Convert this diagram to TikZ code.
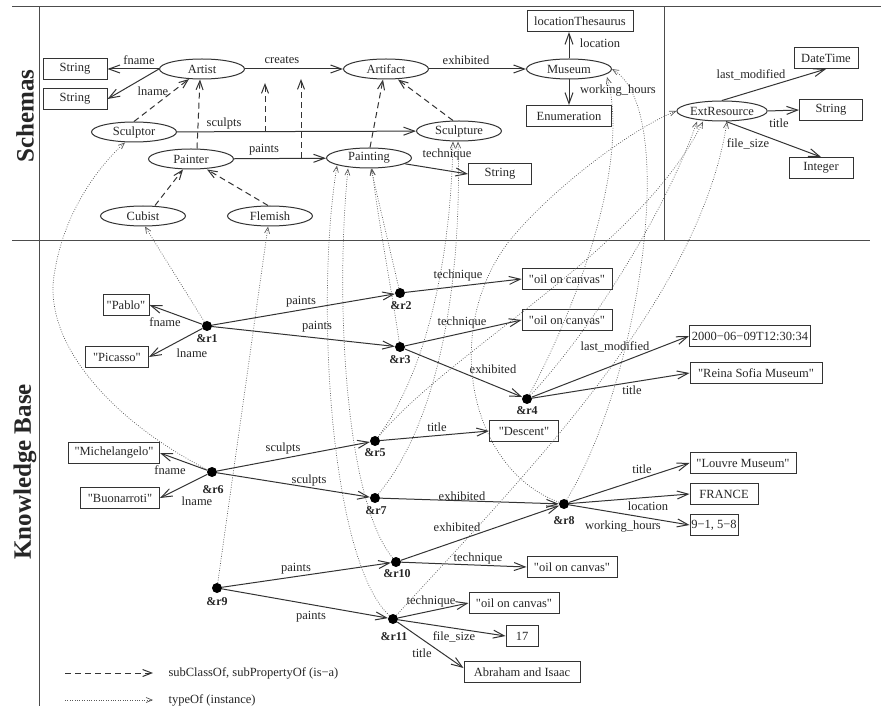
\documentclass[tikz,border=0pt]{standalone}
\usepackage{fontspec}
\setmainfont{Liberation Serif}[Ligatures=TeXOff]
\usetikzlibrary{arrows.meta,shapes.geometric,calc}
\begin{document}
\begin{tikzpicture}[x=1pt,y=-1pt,
  every node/.style={font=\fontsize{12.5}{14}\selectfont, text=black!85},
  cls/.style={ellipse,draw=black!80,line width=1pt,minimum width=85pt,minimum height=20pt,inner sep=0pt},
  box/.style={rectangle,draw=black!80,line width=1pt,minimum height=21pt,inner sep=0pt},
  res/.style={circle,fill=black,minimum size=10pt,inner sep=0pt},
  rl/.style={font=\bfseries\fontsize{12}{14}\selectfont,inner sep=0pt},
  lbl/.style={inner sep=0pt},
  prop/.style={draw=black!80,line width=1pt,-{Straight Barb[length=11pt,width=8pt]}},
  isa/.style={draw=black!80,line width=1pt,dash pattern=on 6pt off 4pt,-{Straight Barb[length=9pt,width=7pt]}},
  inst/.style={draw=black!65,line width=0.7pt,dash pattern=on 0.8pt off 1.6pt,-{Straight Barb[length=6pt,width=5pt]}},
  frame/.style={draw=black!70,line width=1pt}]
\useasboundingbox (0,0) rectangle (881,708);

% frame
\draw[frame] (12,7) -- (881,7);
\draw[frame] (39,7) -- (39,706);
\draw[frame] (12,241) -- (870,241);
\draw[frame] (664,7) -- (664,241);
\node[rotate=90,font=\bfseries\fontsize{25}{28}\selectfont] (schemas) at (25,116) {Schemas};
\node[rotate=90,font=\bfseries\fontsize{25}{28}\selectfont] (kb) at (25,472) {Knowledge Base};

% schema nodes
\node[box,minimum width=64pt] (s1) at (75,69) {String};
\node[box,minimum width=64pt] (s2) at (75,99) {String};
\node[cls] (artist) at (202,69) {Artist};
\node[cls] (artifact) at (386,69) {Artifact};
\node[cls] (museum) at (569,69) {Museum};
\node[box,minimum width=106pt] (lt) at (580,21) {locationThesaurus};
\node[box,minimum width=85pt] (enum) at (569,116) {Enumeration};
\node[cls] (sculptor) at (134,132) {Sculptor};
\node[cls] (sculpture) at (459,131) {Sculpture};
\node[cls] (painter) at (191,159) {Painter};
\node[cls] (painting) at (369,158) {Painting};
\node[box,minimum width=63pt] (s3) at (500,174) {String};
\node[cls] (cubist) at (143,216) {Cubist};
\node[cls] (flemish) at (270,216) {Flemish};
\node[cls,minimum width=82pt] (extres) at (722,111) {ExtResource};
\node[box,minimum width=64pt] (datetime) at (826,58) {DateTime};
\node[box,minimum width=63pt] (s4) at (831,110) {String};
\node[box,minimum width=64pt] (integer) at (821,168) {Integer};

% schema properties
\draw[prop] (artist.west) -- (s1.east) node[lbl] (la) at (139,60) {fname};
\draw[prop] (artist.west) -- (s2.east) node[lbl] (lb) at (153,91) {lname};
\draw[prop] (artist) -- (artifact) node[lbl] (lc) at (282,60) {creates};
\draw[prop] (artifact) -- (museum) node[lbl] (ld) at (466,60) {exhibited};
\draw[prop] (museum.north) -- (lt.south -| museum.north) node[lbl] (le) at (600,43) {location};
\draw[prop] (museum.south) -- (enum.north) node[lbl] (lf) at (618,91) {working\_hours};
\draw[prop] (sculptor) -- (sculpture) node[lbl] (lg) at (224,123) {sculpts};
\draw[prop] (painter) -- (painting) node[lbl] (lh) at (264,150) {paints};
\draw[prop] (painting) -- (s3.west) node[lbl] (li) at (447,154) {technique};
\draw[prop] (extres.north) -- (datetime.south) node[lbl] (lj) at (751,75) {last\_modified};
\draw[prop] (extres.east) -- (s4.west) node[lbl] (lk) at (779,123) {title};
\draw[prop] ([xshift=4pt]extres.south) -- (integer.north) node[lbl] (ll) at (748,144) {file\_size};

% is-a
\draw[isa] (sculptor.north) -- (artist);
\draw[isa] ([xshift=6pt]painter.north) -- ([xshift=-2pt]artist.south);
\draw[isa] ([xshift=12pt]cubist.north) -- ([xshift=-8pt]painter.south);
\draw[isa] ([xshift=-2pt]flemish.north) -- ([xshift=16pt]painter.south);
\coordinate (sc) at (265,132); \coordinate (cr1) at (265,83);
\draw[isa] (sc) -- (cr1);
\coordinate (pa) at (301,158); \coordinate (cr2) at (301,79);
\draw[isa] (pa) -- (cr2);
\draw[isa] ([xshift=1pt]painting.north) -- ([xshift=-3pt]artifact.south);
\draw[isa] ([xshift=-6pt]sculpture.north) -- ([xshift=12pt]artifact.south);

% resources
\node[res] (r1) at (207,326) {};
\node[res] (r2) at (400,293) {};
\node[res] (r3) at (400,347) {};
\node[res] (r4) at (527,399) {};
\node[res] (r5) at (375,441) {};
\node[res] (r6) at (212,472) {};
\node[res] (r7) at (375,498) {};
\node[res] (r8) at (564,504) {};
\node[res] (r9) at (217,588) {};
\node[res] (r10) at (396,562) {};
\node[res] (r11) at (393,619) {};
\node[rl] (r1l) at (207,339) {\&r1};
\node[rl] (r2l) at (401,306) {\&r2};
\node[rl] (r3l) at (400,360) {\&r3};
\node[rl] (r4l) at (527,411) {\&r4};
\node[rl] (r5l) at (375,453) {\&r5};
\node[rl] (r6l) at (213,490) {\&r6};
\node[rl] (r7l) at (376,511) {\&r7};
\node[rl] (r8l) at (564,521) {\&r8};
\node[rl] (r9l) at (217,602) {\&r9};
\node[rl] (r10l) at (397,574) {\&r10};
\node[rl] (r11l) at (394,637) {\&r11};

% literals
\node[box,minimum width=46pt] (pablo) at (126,305) {"Pablo"};
\node[box,minimum width=63pt] (picasso) at (117,357) {"Picasso"};
\node[box,minimum width=90pt] (oil2) at (567,279) {"oil on canvas"};
\node[box,minimum width=90pt] (oil3) at (567,320) {"oil on canvas"};
\node[box,minimum width=121pt] (date) at (750,336) {2000−06−09T12:30:34};
\node[box,minimum width=132pt] (reina) at (756,373) {"Reina Sofia Museum"};
\node[box,minimum width=69pt] (descent) at (524,431) {"Descent"};
\node[box,minimum width=106pt] (louvre) at (743,463) {"Louvre Museum"};
\node[box,minimum width=68pt] (france) at (724,494) {FRANCE};
\node[box,minimum width=48pt] (hours) at (714,525) {9−1, 5−8};
\node[box,minimum width=90pt] (oil10) at (572,567) {"oil on canvas"};
\node[box,minimum width=90pt] (oil11) at (514,603) {"oil on canvas"};
\node[box,minimum width=32pt] (seventeen) at (522,636) {17};
\node[box,minimum width=116pt] (abraham) at (522,672) {Abraham and Isaac};
\node[box,minimum width=91pt] (michel) at (114,453) {"Michelangelo"};
\node[box,minimum width=79pt] (buon) at (120,498) {"Buonarroti"};

% KB properties
\draw[prop] (r1) -- (pablo.east) node[lbl] (m1) at (165,322) {fname};
\draw[prop] (r1) -- (picasso.east) node[lbl] (m2) at (192,353) {lname};
\draw[prop] (r1) -- (r2) node[lbl] (m3) at (301,302) {paints};
\draw[prop] (r1) -- (r3) node[lbl] (m4) at (317,327) {paints};
\draw[prop] (r2) -- (oil2.west) node[lbl] (m5) at (458,275) {technique};
\draw[prop] (r3) -- (oil3.west) node[lbl] (m6) at (462,322) {technique};
\draw[prop] (r3) -- (r4) node[lbl] (m7) at (493,369) {exhibited};
\draw[prop] (r4) -- (date.west) node[lbl] (m8) at (615,347) {last\_modified};
\draw[prop] (r4) -- (reina.west) node[lbl] (m9) at (632,390) {title};
\draw[prop] (r5) -- (descent.west) node[lbl] (m10) at (437,427) {title};
\draw[prop] (r6) -- (michel.east) node[lbl] (m11) at (170,470) {fname};
\draw[prop] (r6) -- (buon.east) node[lbl] (m12) at (197,501) {lname};
\draw[prop] (r6) -- (r5) node[lbl] (m13) at (283,448) {sculpts};
\draw[prop] (r6) -- (r7) node[lbl] (m14) at (309,480) {sculpts};
\draw[prop] (r7) -- (r8) node[lbl] (m15) at (462,496) {exhibited};
\draw[prop] (r10) -- (r8) node[lbl] (m16) at (457,527) {exhibited};
\draw[prop] (r8) -- (louvre.west) node[lbl] (m17) at (642,469) {title};
\draw[prop] (r8) -- (france.west) node[lbl] (m18) at (648,506) {location};
\draw[prop] (r8) -- (hours.west) node[lbl] (m19) at (623,527) {working\_hours};
\draw[prop] (r9) -- (r10) node[lbl] (m20) at (296,569) {paints};
\draw[prop] (r9) -- (r11) node[lbl] (m21) at (311,617) {paints};
\draw[prop] (r10) -- (oil10.west) node[lbl] (m22) at (478,558) {technique};
\draw[prop] (r11) -- (oil11.west) node[lbl] (m23) at (431,601) {technique};
\draw[prop] (r11) -- (seventeen.west) node[lbl] (m24) at (454,637) {file\_size};
\draw[prop] (r11) -- ([yshift=4pt]abraham.west) node[lbl] (m25) at (422,653) {title};

% typeOf
\draw[inst] (r1) -- ([xshift=2pt]cubist.south);
\draw[inst] (r6) .. controls (110,420) and (40,340) .. (55,270) .. controls (65,210) and (100,165) .. ([xshift=-9pt]sculptor.south);
\draw[inst] (r9) -- ([xshift=-2pt]flemish.south);
\draw[inst] (r2) -- ([xshift=2pt]painting.south);
\draw[inst] (r3) .. controls (390,280) and (378,220) .. ([xshift=3pt]painting.south);
\draw[inst] (r10) .. controls (345,500) and (335,300) .. ([xshift=-21pt]painting.south);
\draw[inst] (r11) .. controls (330,560) and (315,300) .. ([xshift=-32pt,yshift=3pt]painting.south);
\draw[inst] (r5) .. controls (420,380) and (450,280) .. ([xshift=-6pt]sculpture.south);
\draw[inst] (r7) .. controls (440,420) and (462,280) .. ([xshift=-1pt]sculpture.south);
\draw[inst] (r4) .. controls (580,300) and (630,160) .. ($(museum.east)+(-5,8)$);
\draw[inst] (r8) .. controls (640,380) and (680,110) .. (museum.east);
\draw[inst] (r4) .. controls (600,320) and (670,200) .. ([xshift=-25pt]extres.south);
\draw[inst] (r5) .. controls (450,350) and (640,250) .. ([xshift=-19pt]extres.south);
\draw[inst] (r11) .. controls (520,480) and (700,300) .. ([xshift=5pt]extres.south);
\draw[inst] (r8) .. controls (470,470) and (440,330) .. (510,240) .. controls (560,180) and (640,125) .. (extres.west);

% legend
\coordinate (lga) at (65,673); \coordinate (lgb) at (153,673);
\draw[isa] (lga) -- (lgb);
\node[anchor=west] (lgt1) at (165,673) {subClassOf, subPropertyOf (is−a)};
\coordinate (lgc) at (65,700); \coordinate (lgd) at (153,700);
\draw[inst] (lgc) -- (lgd);
\node[anchor=west] (lgt2) at (165,700) {typeOf (instance)};
\end{tikzpicture}
\end{document}
